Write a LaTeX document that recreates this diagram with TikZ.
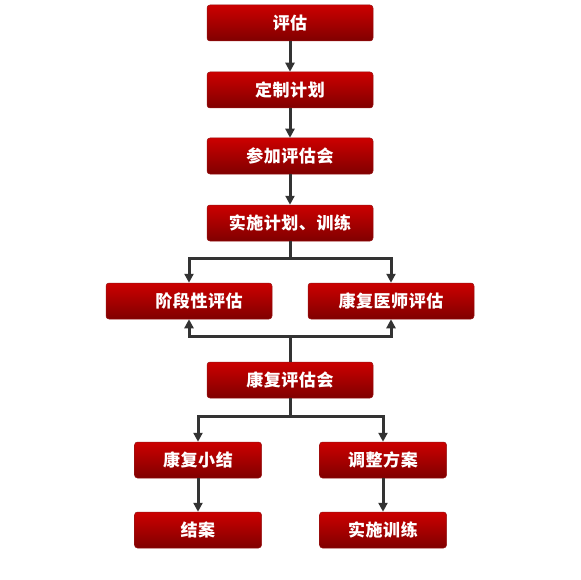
\documentclass[tikz,border=0pt]{standalone}
\usepackage{fontspec}
\newfontfamily\cjk[LetterSpace=3]{Noto Sans CJK SC}
\usetikzlibrary{arrows.meta}
\definecolor{boxtop}{RGB}{204,0,0}
\definecolor{boxbot}{RGB}{128,0,0}
\definecolor{boxline}{RGB}{150,20,20}
\definecolor{linegray}{RGB}{51,51,51}

\begin{document}
\begin{tikzpicture}[x=1pt, y=-1pt,
  stepbox/.style={rounded corners=3pt, draw=boxline, line width=0.5pt,
    top color=boxtop, bottom color=boxbot, text=white,
    font=\cjk\bfseries\fontsize{17pt}{19pt}\selectfont,
    minimum width=166pt, minimum height=36pt, inner sep=0pt},
  smallbox/.style={stepbox, minimum width=127pt},
  flow/.style={-{Triangle[length=9pt, width=9pt]}, linegray, line width=3pt}]

\useasboundingbox (0,0) rectangle (580,580);

% ── Hauptkette ───────────────────────────────────────────────────────
\node[stepbox] (pg)   at (290, 23)  {评估};
\node[stepbox] (dzjh) at (290, 90)  {定制计划};
\node[stepbox] (cjpg) at (290, 156) {参加评估会};
\node[stepbox] (ssjh) at (290, 223) {实施计划、训练};

% ── Zwei Bewertungen ─────────────────────────────────────────────────
\node[stepbox] (jdx)  at (189, 301) {\hspace*{20pt}阶段性评估};
\node[stepbox] (kfys) at (391, 301) {康复医师评估};
\node[stepbox] (kfpg) at (290, 380) {康复评估会};

% ── Ergebnisse ───────────────────────────────────────────────────────
\node[smallbox] (kfxj) at (198, 460) {康复小结};
\node[smallbox] (tzfa) at (383, 460) {调整方案};
\node[smallbox] (ja)   at (198, 530) {结案};
\node[smallbox] (ssxl) at (383, 530) {实施训练};

% ── Pfeile ───────────────────────────────────────────────────────────
\draw[flow] (pg)   -- (dzjh);
\draw[flow] (dzjh) -- (cjpg);
\draw[flow] (cjpg) -- (ssjh);
\draw[flow] (ssjh.south) -- (ssjh.south |- 0,258) -| (jdx.north);
\draw[flow] (ssjh.south) -- (ssjh.south |- 0,258) -| (kfys.north);
\draw[flow] (kfpg.north) -- (kfpg.north |- 0,336) -| (jdx.south);
\draw[flow] (kfpg.north) -- (kfpg.north |- 0,336) -| (kfys.south);
\draw[flow] (kfpg.south) -- (kfpg.south |- 0,416) -| (kfxj.north);
\draw[flow] (kfpg.south) -- (kfpg.south |- 0,416) -| (tzfa.north);
\draw[flow] (kfxj) -- (ja);
\draw[flow] (tzfa) -- (ssxl);

\end{tikzpicture}
\end{document}
